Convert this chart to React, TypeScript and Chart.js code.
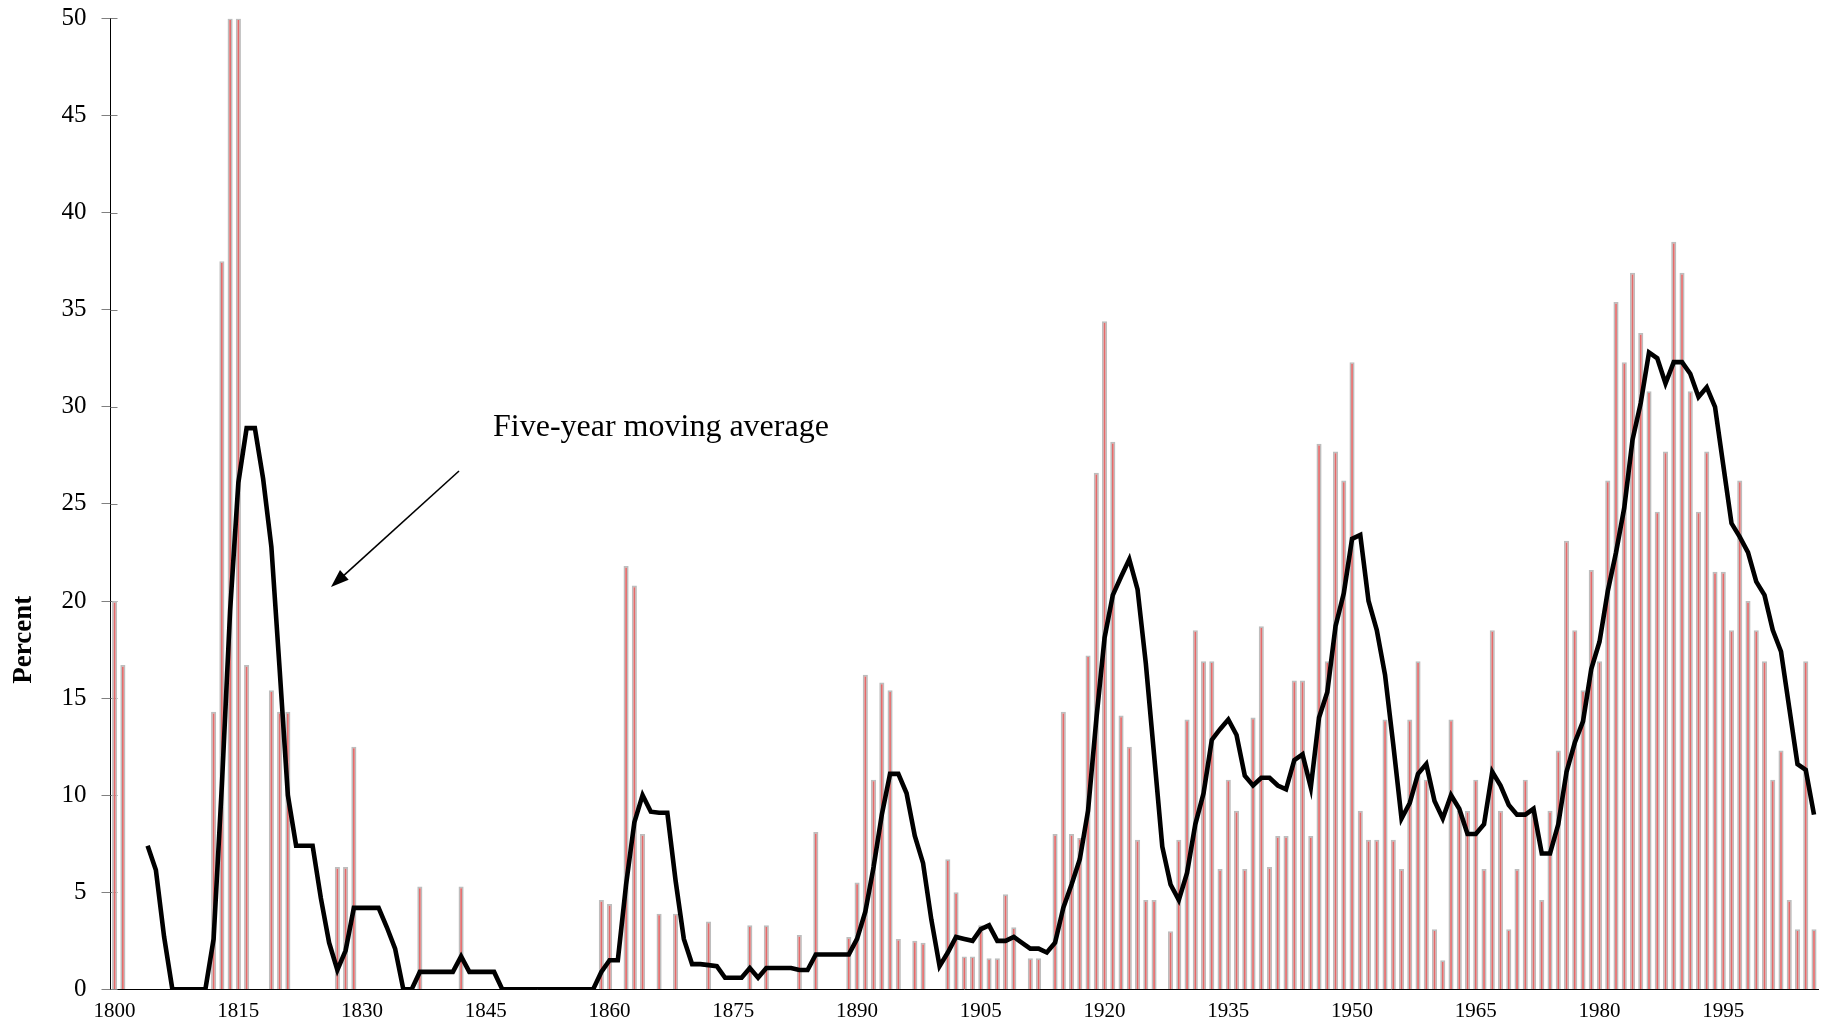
import React, { useEffect, useRef } from 'react';
import { Chart, registerables } from 'chart.js';

Chart.register(...registerables);

const FIRST_YEAR = 1800;
const LAST_YEAR = 2006;
const years: string[] = [];
for (let y = FIRST_YEAR; y <= LAST_YEAR; y++) years.push(String(y));

const xTickLabels = ['1800', '1815', '1830', '1845', '1860', '1875', '1890', '1905', '1920', '1935', '1950', '1965', '1980', '1995'];

// Annual percent (bars), 1800-2006
const annualPercent: number[] = [
  // 1800s
  20, 16.7, 0, 0, 0, 0, 0, 0, 0, 0,
  // 1810s
  0, 0, 14.3, 37.5, 50, 50, 16.7, 0, 0, 15.4,
  // 1820s
  14.3, 14.3, 0, 0, 0, 0, 0, 6.3, 6.3, 12.5,
  // 1830s
  0, 0, 0, 0, 0, 0, 0, 5.3, 0, 0,
  // 1840s
  0, 0, 5.3, 0, 0, 0, 0, 0, 0, 0,
  // 1850s
  0, 0, 0, 0, 0, 0, 0, 0, 0, 4.6,
  // 1860s
  4.4, 0, 21.8, 20.8, 8.0, 0, 3.9, 0, 3.9, 0,
  // 1870s
  0, 0, 3.5, 0, 0, 0, 0, 3.3, 0, 3.3,
  // 1880s
  0, 0, 0, 2.8, 0, 8.1, 0, 0, 0, 2.7,
  // 1890s
  5.5, 16.2, 10.8, 15.8, 15.4, 2.6, 0, 2.5, 2.4, 0,
  // 1900s
  0, 6.7, 5.0, 1.7, 1.7, 3.3, 1.6, 1.6, 4.9, 3.2,
  // 1910s
  0, 1.6, 1.6, 0, 8.0, 14.3, 8.0, 7.8, 17.2, 26.6,
  // 1920s
  34.4, 28.2, 14.1, 12.5, 7.7, 4.6, 4.6, 0, 3.0, 7.7,
  // 1930s
  13.9, 18.5, 16.9, 16.9, 6.2, 10.8, 9.2, 6.2, 14.0, 18.7,
  // 1940s
  6.3, 7.9, 7.9, 15.9, 15.9, 7.9, 28.1, 16.9, 27.7, 26.2,
  // 1950s
  32.3, 9.2, 7.7, 7.7, 13.9, 7.7, 6.2, 13.9, 16.9, 10.8,
  // 1960s
  3.1, 1.5, 13.9, 9.2, 9.2, 10.8, 6.2, 18.5, 9.2, 3.1,
  // 1970s
  6.2, 10.8, 9.2, 4.6, 9.2, 12.3, 23.1, 18.5, 15.4, 21.6,
  // 1980s
  16.9, 26.2, 35.4, 32.3, 36.9, 33.8, 30.8, 24.6, 27.7, 38.5,
  // 1990s
  36.9, 30.8, 24.6, 27.7, 21.5, 21.5, 18.5, 26.2, 20.0, 18.5,
  // 2000s
  16.9, 10.8, 12.3, 4.6, 3.1, 16.9, 3.1,
];

// Five-year moving average (line), 1800-2006
const movingAverage: (number | null)[] = [
  // 1800s
  null, null, null, null, 7.4, 6.15, 2.7, 0, 0, 0,
  // 1810s
  0, 0, 2.6, 10.5, 19.5, 26.1, 28.9, 28.9, 26.3, 22.8,
  // 1820s
  16.5, 10.0, 7.4, 7.4, 7.4, 4.7, 2.4, 1.0, 2.0, 4.2,
  // 1830s
  4.2, 4.2, 4.2, 3.2, 2.1, 0, 0, 0.9, 0.9, 0.9,
  // 1840s
  0.9, 0.9, 1.7, 0.9, 0.9, 0.9, 0.9, 0, 0, 0,
  // 1850s
  0, 0, 0, 0, 0, 0, 0, 0, 0, 0.9,
  // 1860s
  1.5, 1.5, 5.4, 8.6, 10.0, 9.15, 9.1, 9.1, 5.6, 2.6,
  // 1870s
  1.3, 1.3, 1.25, 1.2, 0.6, 0.6, 0.6, 1.1, 0.6, 1.1,
  // 1880s
  1.1, 1.1, 1.1, 1.0, 1.0, 1.8, 1.8, 1.8, 1.8, 1.8,
  // 1890s
  2.6, 4.0, 6.3, 9.0, 11.1, 11.1, 10.1, 7.9, 6.5, 3.6,
  // 1900s
  1.2, 1.9, 2.7, 2.6, 2.5, 3.1, 3.3, 2.5, 2.5, 2.7,
  // 1910s
  2.4, 2.1, 2.1, 1.9, 2.4, 4.2, 5.4, 6.7, 9.2, 13.9,
  // 1920s
  18.1, 20.3, 21.25, 22.15, 20.6, 16.8, 12.1, 7.35, 5.4, 4.6,
  // 1930s
  6.0, 8.5, 10.1, 12.85, 13.4, 13.9, 13.1, 11.0, 10.5, 10.9,
  // 1940s
  10.9, 10.5, 10.3, 11.8, 12.1, 10.4, 14.0, 15.3, 18.7, 20.4,
  // 1950s
  23.2, 23.4, 20.0, 18.5, 16.2, 12.6, 8.8, 9.6, 11.1, 11.6,
  // 1960s
  9.7, 8.8, 10.0, 9.3, 8.0, 8.0, 8.5, 11.2, 10.5, 9.5,
  // 1970s
  9.0, 9.0, 9.3, 7.0, 7.0, 8.5, 11.2, 12.7, 13.8, 16.5,
  // 1980s
  17.9, 20.5, 22.5, 24.8, 28.3, 30.2, 32.8, 32.5, 31.2, 32.3,
  // 1990s
  32.3, 31.7, 30.5, 31.0, 30.0, 27.0, 24.0, 23.3, 22.5, 21.0,
  // 2000s
  20.3, 18.5, 17.4, 14.5, 11.6, 11.3, 9.0,
];

const FONT = '"Liberation Serif", "Times New Roman", serif';

const overlayPlugin = {
  id: 'overlay',
  beforeDatasetsDraw(chart: any) {
    const { ctx, chartArea, scales } = chart;
    const ys = scales.y;
    ctx.save();
    ctx.strokeStyle = '#808080';
    ctx.lineWidth = 1;
    ys.ticks.forEach((_t: any, i: number) => {
      const py = Math.round(ys.getPixelForTick(i)) + 0.5;
      ctx.beginPath();
      ctx.moveTo(chartArea.left, py);
      ctx.lineTo(chartArea.left + 7, py);
      ctx.stroke();
    });
    ctx.restore();
  },
  afterDatasetsDraw(chart: any) {
    const { ctx, chartArea } = chart;
    ctx.save();
    ctx.fillStyle = '#000';
    ctx.font = `32px ${FONT}`;
    ctx.textAlign = 'left';
    ctx.textBaseline = 'middle';
    ctx.fillText('Five-year moving average', 493, 428);
    const x1 = 459, y1 = 471, x2 = 331, y2 = 587;
    const ang = Math.atan2(y2 - y1, x2 - x1);
    const head = 18, hw = 6.5;
    ctx.strokeStyle = '#000';
    ctx.lineWidth = 1.6;
    ctx.beginPath();
    ctx.moveTo(x1, y1);
    ctx.lineTo(x2 - Math.cos(ang) * head * 0.8, y2 - Math.sin(ang) * head * 0.8);
    ctx.stroke();
    ctx.beginPath();
    ctx.moveTo(x2, y2);
    ctx.lineTo(x2 - Math.cos(ang) * head - Math.sin(ang) * hw, y2 - Math.sin(ang) * head + Math.cos(ang) * hw);
    ctx.lineTo(x2 - Math.cos(ang) * head + Math.sin(ang) * hw, y2 - Math.sin(ang) * head - Math.cos(ang) * hw);
    ctx.closePath();
    ctx.fill();
    ctx.save();
    ctx.translate(24, chartArea.top + (chartArea.bottom - chartArea.top) * 0.64);
    ctx.rotate(-Math.PI / 2);
    ctx.font = `bold 27px ${FONT}`;
    ctx.textAlign = 'center';
    ctx.textBaseline = 'middle';
    ctx.fillText('Percent', 0, 0);
    ctx.restore();
    ctx.restore();
  },
};

export default function App() {
  const canvasRef = useRef<HTMLCanvasElement | null>(null);

  useEffect(() => {
    const canvas = canvasRef.current;
    if (!canvas) return;
    const chart = new Chart(canvas, {
      type: 'bar',
      data: {
        labels: years,
        datasets: [
          {
            type: 'line',
            label: 'Five-year moving average',
            data: movingAverage,
            borderColor: '#000000',
            borderWidth: 4.6,
            pointRadius: 0,
            tension: 0,
            fill: false,
            order: 0,
          } as any,
          {
            type: 'bar',
            label: 'Percent',
            data: annualPercent.map((v) => (v === 0 ? null : v)),
            backgroundColor: '#e46a6a',
            borderColor: '#bdbdbd',
            borderWidth: 1.7,
            borderSkipped: 'bottom',
            barPercentage: 0.62,
            categoryPercentage: 1,
            order: 1,
          } as any,
        ],
      },
      options: {
        animation: false,
        responsive: false,
        devicePixelRatio: 1,
        layout: { padding: { left: 0, right: 1, top: 18.4, bottom: 0 } },
        plugins: {
          legend: { display: false },
          tooltip: { enabled: false },
          title: { display: false },
        },
        scales: {
          x: {
            type: 'category',
            offset: true,
            grid: { display: false, drawTicks: false },
            border: { display: true, color: '#000000', width: 1 },
            ticks: {
              autoSkip: false,
              maxRotation: 0,
              minRotation: 0,
              padding: 9,
              color: '#000000',
              font: { family: FONT, size: 21 },
              callback: (_v: any, i: number) => (xTickLabels.includes(years[i]) ? years[i] : ''),
            },
            afterFit: (scale: any) => {
              scale.height = 45.6;
            },
          },
          y: {
            min: 0,
            max: 50,
            ticks: {
              stepSize: 5,
              padding: 15,
              color: '#000000',
              font: { family: FONT, size: 25 },
            },
            grid: {
              drawOnChartArea: false,
              drawTicks: true,
              tickLength: 9,
              color: '#808080',
            },
            border: { display: true, color: '#000000', width: 1 },
            afterFit: (scale: any) => {
              scale.width = 110.5;
              scale.paddingTop = 0;
              scale.paddingBottom = 0;
            },
          },
        },
      },
      plugins: [overlayPlugin],
    });
    return () => chart.destroy();
  }, []);

  return (
    <div style={{ position: 'fixed', left: 0, top: 0, width: 1823, height: 1035, background: '#ffffff' }}>
      <canvas ref={canvasRef} width={1823} height={1035} style={{ width: 1823, height: 1035, display: 'block' }} />
    </div>
  );
}
